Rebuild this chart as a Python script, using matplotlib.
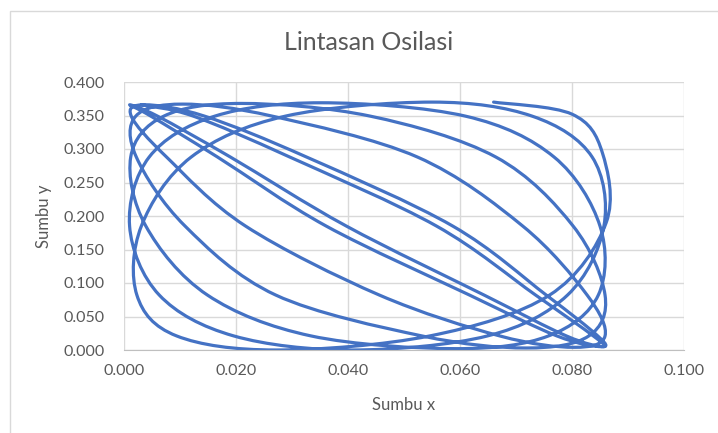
import numpy as np
import matplotlib
matplotlib.use("Agg")
import matplotlib.pyplot as plt
from matplotlib.path import Path
from matplotlib.patches import PathPatch, Rectangle

# posisi bandul (m)
x_pos = [
    0.0660, 0.0800, 0.0854, 0.0861, 0.0760, 0.0546, 0.0272, 0.0094, 0.0023, 0.0031, 0.0120, 0.0288,
    0.0550, 0.0729, 0.0836, 0.0857, 0.0792, 0.0649, 0.0407, 0.0196, 0.0063, 0.0010, 0.0045, 0.0162,
    0.0352, 0.0610, 0.0768, 0.0850, 0.0847, 0.0758, 0.0594, 0.0334, 0.0149, 0.0039, 0.0012, 0.0071,
    0.0210, 0.0440, 0.0664, 0.0802, 0.0859, 0.0830, 0.0718, 0.0532, 0.0271, 0.0109, 0.0022, 0.0021,
    0.0105, 0.0265, 0.0524, 0.0712, 0.0827, 0.0859, 0.0804, 0.0671, 0.0456, 0.0217, 0.0076, 0.0013,
    0.0037, 0.0144, 0.0326, 0.0587, 0.0754, 0.0846, 0.0853, 0.0773, 0.0617, 0.0361, 0.0167, 0.0048,
    0.0010, 0.0060, 0.0190, 0.0397, 0.0643, 0.0790, 0.0856, 0.0838, 0.0735, 0.0558, 0.0296, 0.0124,
    0.0031,
]
y_pos = [
    0.370, 0.352, 0.295, 0.190, 0.082, 0.021, 0.000, 0.021, 0.082, 0.185, 0.288, 0.349,
    0.370, 0.349, 0.288, 0.185, 0.082, 0.021, 0.000, 0.021, 0.082, 0.185, 0.288, 0.349,
    0.369, 0.349, 0.288, 0.185, 0.082, 0.021, 0.002, 0.021, 0.082, 0.185, 0.288, 0.349,
    0.368, 0.349, 0.288, 0.185, 0.082, 0.021, 0.003, 0.021, 0.082, 0.185, 0.288, 0.349,
    0.367, 0.349, 0.288, 0.185, 0.082, 0.021, 0.004, 0.021, 0.082, 0.185, 0.288, 0.349,
    0.366, 0.349, 0.288, 0.185, 0.082, 0.021, 0.005, 0.021, 0.082, 0.185, 0.288, 0.349,
    0.366, 0.349, 0.288, 0.185, 0.082, 0.021, 0.005, 0.021, 0.082, 0.185, 0.288, 0.349,
    0.366,
]

x_ticks = [0.0, 0.02, 0.04, 0.06, 0.08, 0.10]
y_ticks = [0.0, 0.05, 0.10, 0.15, 0.20, 0.25, 0.30, 0.35, 0.40]

line_color = "#4472C4"
text_color = "#595959"
grid_color = "#D9D9D9"


def smooth_path(xs, ys):
    # garis halus ala Excel (kurva Bezier lewat tiap titik)
    pts = np.column_stack([xs, ys])
    n = len(pts)
    verts = [pts[0]]
    codes = [Path.MOVETO]
    for i in range(n - 1):
        p0 = pts[max(i - 1, 0)]
        p1 = pts[i]
        p2 = pts[i + 1]
        p3 = pts[min(i + 2, n - 1)]
        verts += [p1 + (p2 - p0) / 6, p2 - (p3 - p1) / 6, p2]
        codes += [Path.CURVE4] * 3
    return Path(verts, codes)


plt.rcParams['font.family'] = ['Lato', 'DejaVu Sans']

fig = plt.figure(figsize=(7.18, 4.33), dpi=100)
fig.patches.append(Rectangle((10 / 718, -0.1), 1.2, (433 - 11) / 433 + 0.1,
                             transform=fig.transFigure, fill=False,
                             edgecolor=grid_color, linewidth=1))

ax = fig.add_axes([124 / 718, 83 / 433, 560 / 718, 268 / 433])
ax.add_patch(PathPatch(smooth_path(x_pos, y_pos), fill=False,
                       edgecolor=line_color, linewidth=2.3, capstyle='round',
                       joinstyle='round'))

ax.set_xlim(0, 0.1)
ax.set_ylim(0, 0.4)
ax.set_xticks(x_ticks)
ax.set_yticks(y_ticks)
ax.set_xticklabels(["%.3f" % v for v in x_ticks])
ax.set_yticklabels(["%.3f" % v for v in y_ticks])
ax.grid(True, color=grid_color, linewidth=1)
ax.set_axisbelow(True)
ax.tick_params(length=0, labelsize=11.5, colors=text_color)
ax.tick_params(axis="y", pad=14)
ax.tick_params(axis="x", pad=10)
for side in ["top", "right", "left"]:
    ax.spines[side].set_visible(False)
ax.spines["bottom"].set_color("#BFBFBF")

fig.text(369 / 718, 1 - 42 / 433, "Lintasan Osilasi", fontsize=18,
         color=text_color, ha="center", va="center")
ax.set_xlabel("Sumbu x", fontsize=12, color=text_color, labelpad=14)
ax.set_ylabel("Sumbu y", fontsize=12, color=text_color, labelpad=8)

fig.savefig("out.png", dpi=100)
